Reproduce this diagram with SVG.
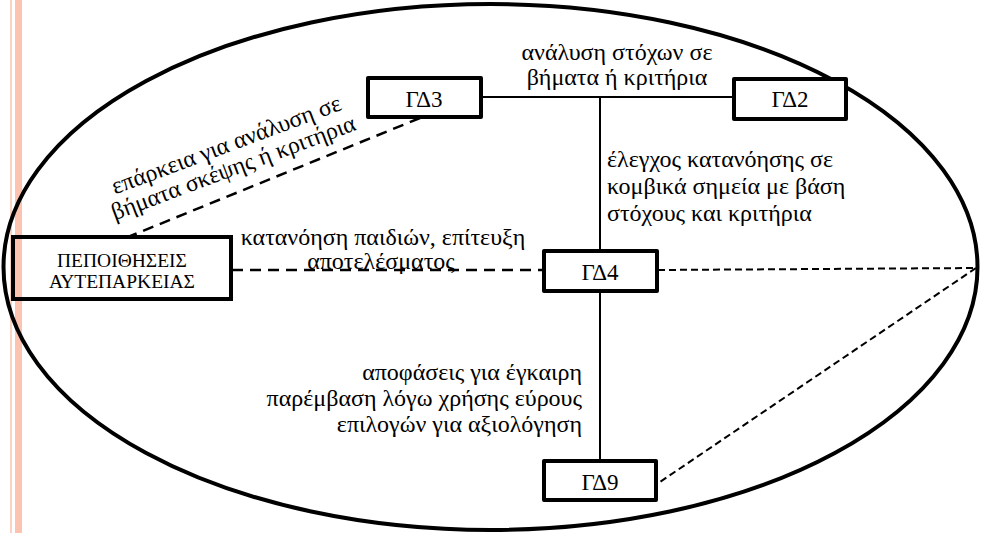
<svg xmlns="http://www.w3.org/2000/svg" width="988" height="533" viewBox="0 0 988 533">
<style>
text{font-family:'Liberation Serif','Times New Roman','DejaVu Serif',serif;fill:#000}
.box{fill:#fff;stroke:#000;stroke-width:4;stroke-linejoin:round}
.lbl{font-size:24px}
.bt{font-size:23px;text-anchor:middle}
.solid{stroke:#000;stroke-width:2;fill:none}
.dash{stroke:#000;stroke-width:2.5;stroke-dasharray:11 7;fill:none}
.dash2{stroke:#000;stroke-width:2;stroke-dasharray:7 4;fill:none}
</style>
<rect width="988" height="533" fill="#fff"/>
<rect x="10" y="0" width="2" height="533" fill="#fcd2c4"/>
<rect x="15" y="0" width="7" height="533" fill="#fbc3b0"/>
<ellipse cx="490.5" cy="267" rx="487" ry="263" fill="none" stroke="#000" stroke-width="4"/>
<g id="connectors">
<line class="solid" x1="481" y1="97" x2="733" y2="97"/>
<line class="solid" x1="600" y1="97" x2="600" y2="251"/>
<line class="solid" x1="600" y1="291" x2="600" y2="461"/>
<line class="dash" x1="232" y1="270" x2="543" y2="270"/>
<line class="dash" x1="420" y1="118" x2="128" y2="237"/>
<line class="dash2" x1="658" y1="270" x2="976" y2="268"/>
<line class="dash2" x1="976" y1="268" x2="657" y2="484"/>
</g>
<g id="n-pep">
<rect x="13" y="237" width="218" height="62" fill="none" stroke="#000" stroke-width="4"/>
<text class="bt" x="122" y="267" style="font-size:19.5px">ΠΕΠΟΙΘΗΣΕΙΣ</text>
<text class="bt" x="122" y="288" style="font-size:19.5px">ΑΥΤΕΠΑΡΚΕΙΑΣ</text>
</g>
<g id="n-gd3">
<rect class="box" x="368" y="78" width="113" height="39"/>
<text class="bt" x="424" y="107">ΓΔ3</text>
</g>
<g id="n-gd2">
<rect class="box" x="734" y="79" width="112" height="40"/>
<text class="bt" x="790" y="107">ΓΔ2</text>
</g>
<g id="n-gd4">
<rect class="box" x="544" y="251" width="113" height="40"/>
<text class="bt" x="600" y="280">ΓΔ4</text>
</g>
<g id="n-gd9">
<rect class="box" x="544" y="461" width="112" height="39"/>
<text class="bt" x="600" y="490">ΓΔ9</text>
</g>
<g id="labels">
<text class="lbl" x="617" y="60" text-anchor="middle">ανάλυση στόχων σε</text>
<text class="lbl" x="617" y="85" text-anchor="middle">βήματα ή κριτήρια</text>
<text class="lbl" x="607" y="167">έλεγχος κατανόησης σε</text>
<text class="lbl" x="607" y="194">κομβικά σημεία με βάση</text>
<text class="lbl" x="607" y="221">στόχους και κριτήρια</text>
<text class="lbl" x="383" y="245" text-anchor="middle">κατανόηση παιδιών, επίτευξη</text>
<text class="lbl" x="381" y="269" text-anchor="middle">αποτελέσματος</text>
<text class="lbl" x="582" y="380" text-anchor="end">αποφάσεις για έγκαιρη</text>
<text class="lbl" x="582" y="406" text-anchor="end">παρέμβαση λόγω χρήσης εύρους</text>
<text class="lbl" x="582" y="432" text-anchor="end">επιλογών για αξιολόγηση</text>
<text class="lbl" text-anchor="middle" transform="translate(229,152) rotate(-20.5)">επάρκεια για ανάλυση σε</text>
<text class="lbl" text-anchor="middle" transform="translate(236,175) rotate(-20.5)">βήματα σκέψης ή κριτήρια</text>
</g>
</svg>
